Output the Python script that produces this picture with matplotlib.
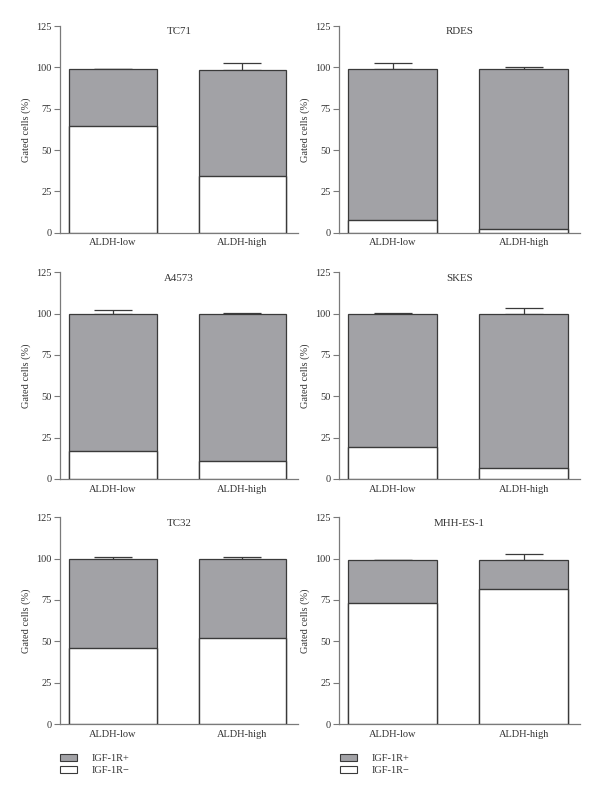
import numpy as np
import matplotlib

matplotlib.use("Agg")

import matplotlib.pyplot as plt
import matplotlib.patches as mpatches
from matplotlib.transforms import blended_transform_factory

plt.rcParams["font.family"]=["Liberation Serif","DejaVu Serif"]

# data (percent of gated cells)
groups=["ALDH-low","ALDH-high"]
cell_lines=["TC71","RDES","A4573","SKES","TC32","MHH-ES-1"]
igf_neg=[
    [64.7,34.5],
    [7.5,2.0],
    [16.9,10.9],
    [19.2,6.9],
    [45.8,51.8],
    [73.2,81.6],
]
total=[
    [98.8,98.2],
    [99.0,99.0],
    [100.0,99.9],
    [100.0,99.8],
    [99.6,99.6],
    [98.9,98.9],
]
err_top=[
    [99.2,102.4],
    [102.8,100.2],
    [101.9,100.3],
    [100.2,103.4],
    [100.8,101.2],
    [99.3,102.9],
]
yticks=[0,25,50,75,100,125]

grey_fill="#a2a2a6"
edge="#3a3a3a"
axis_col="#7a7a7a"
text_col="#333333"

fig=plt.figure(figsize=(6,8.06),dpi=100)

W,H=600,806
lefts=[60,339]
widths=[238,241]
bottoms=[232.7,479,724]
ax_h=206.7

x=np.arange(len(groups))

for i,name in enumerate(cell_lines):
    row,col=divmod(i,2)

    ax=fig.add_axes([
        lefts[col]/W,
        1-bottoms[row]/H,
        widths[col]/W,
        ax_h/H
    ])

    neg=np.array(igf_neg[i])
    tot=np.array(total[i])
    top=np.array(err_top[i])

    ax.bar(x,tot,width=0.677,color=grey_fill,edgecolor=edge,linewidth=0.9,zorder=2)
    ax.bar(x,neg,width=0.677,color="white",edgecolor=edge,linewidth=1.0,zorder=3)

    ax.errorbar(
        x,
        tot,
        yerr=[np.zeros_like(tot),top-tot],
        fmt="none",
        ecolor=edge,
        elinewidth=0.9,
        capsize=14,
        capthick=0.9,
        zorder=1
    )

    ax.set_xlim(-0.41,1.43)
    ax.set_ylim(0,125)
    ax.set_yticks(yticks)
    ax.set_xticks(x)
    ax.set_xticklabels(groups,fontsize=7.5,color=text_col)

    ax.tick_params(axis="x",length=0,pad=4)
    ax.tick_params(axis="y",length=4,width=0.8,color=axis_col,labelsize=7.5,labelcolor=text_col,pad=2)

    for s in ["top","right"]:
        ax.spines[s].set_visible(False)

    for s in ["left","bottom"]:
        ax.spines[s].set_color(axis_col)
        ax.spines[s].set_linewidth(0.9)

    ax.set_ylabel("Gated cells (%)",fontsize=7.5,color=text_col,labelpad=4)

    trans=blended_transform_factory(ax.transAxes,ax.transData)

    ax.text(0.5,121.5,name,transform=trans,ha="center",va="center",fontsize=7.8,color=text_col)

    ax.patch.set_alpha(0)

for lx in [60,340]:
    handles=[
        mpatches.Patch(facecolor=grey_fill,edgecolor=edge,linewidth=0.8,label="IGF-1R+"),
        mpatches.Patch(facecolor="white",edgecolor=edge,linewidth=0.8,label="IGF-1R\u2212"),
    ]

    fig.legend(
        handles=handles,
        loc="upper left",
        bbox_to_anchor=(lx/W,1-754/H),
        frameon=False,
        fontsize=7.5,
        labelcolor=text_col,
        handlelength=1.6,
        handleheight=0.6,
        handletextpad=1.4,
        labelspacing=0.3,
        borderpad=0,
        borderaxespad=0
    )

fig.savefig("out.png",dpi=100,facecolor="white")
